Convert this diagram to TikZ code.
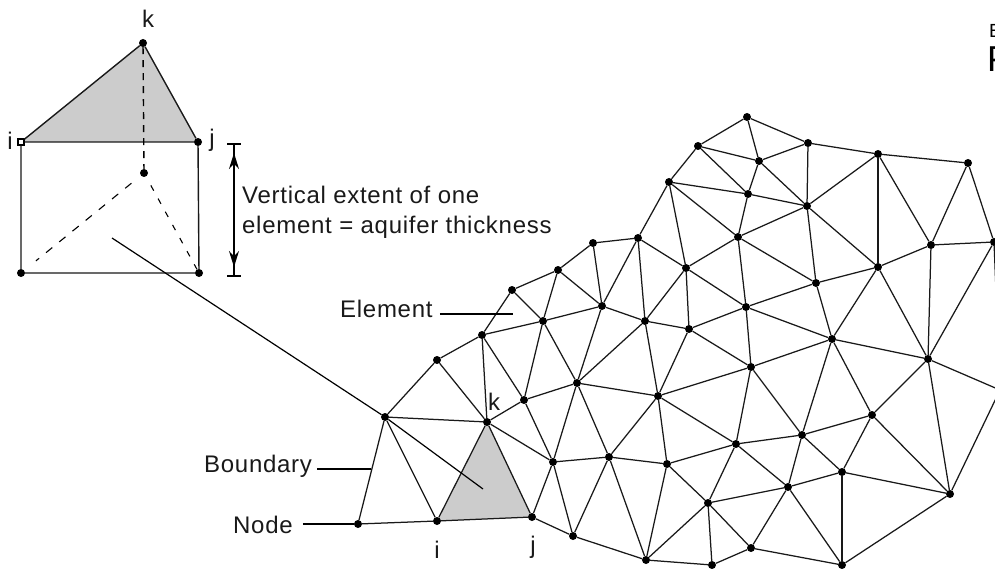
\documentclass[tikz,border=0pt]{standalone}
\usepackage{fontspec}
\newfontfamily\labelfont[LetterSpace=3]{Liberation Sans}
\usetikzlibrary{arrows.meta,backgrounds}
\definecolor{elementgray}{RGB}{204,204,204}
\tikzset{
  meshdot/.style={circle,fill=black,inner sep=0pt,minimum size=8pt},
  opendot/.style={rectangle,draw=black,line width=1.2pt,fill=white,inner sep=0pt,minimum size=6pt},
  meshline/.style={line width=1.25pt,black!90},
  prismline/.style={line width=1.4pt,black!90},
  leader/.style={line width=1.2pt,black},
  lbl/.style={inner sep=0pt,font=\labelfont\fontsize{24}{30}\selectfont,text=black!90},
  tip/.style={{Stealth[length=16pt,width=10pt]}-{Stealth[length=16pt,width=10pt]}}
}
\begin{document}
\begin{tikzpicture}[x=1pt,y=-1pt]
  \useasboundingbox (0,0) rectangle (995,569);
  \clip (0,0) rectangle (995,569);
  % --- Mesh nodes ---
  \foreach \name/\x/\y in {
    t1/747/117,t2/698/146,t3/808/143,t4/759/161,t5/878/154,t6/968/163,t7/669/182,t8/748/194,
    t9/807/206,t10/738/237,t11/686/268,t12/931/245,t13/994/242,t14/878/267,t15/816/283,
    e1/638/238,e2/593/243,e3/558/270,e4/512/290,e5/482/335,e6/437/360,e7/385/417,e8/358/524,
    mi/437/521,mj/532/517,mk/487/422,
    m1/543/321,m2/602/306,m3/645/321,m4/689/329,m5/746/307,m6/832/339,m7/928/359,m8/1000/390,
    m9/524/400,m10/577/383,m11/658/396,m12/751/367,m13/553/462,m14/609/457,m15/667/464,
    m16/736/444,m17/802/435,m18/872/415,m19/842/472,m20/788/487,m21/708/503,m22/950/494,
    b1/573/536,b2/646/560,b3/712/565,b4/751/548,b5/842/565}
    \node[meshdot] (\name) at (\x,\y) {};
  % --- Mesh elements ---
  \begin{scope}[on background layer]
    \fill[elementgray] (mi.center) -- (mj.center) -- (mk.center) -- cycle;
  \end{scope}
  \foreach \a/\b in {
    t1/t2,t1/t3,t1/t4,t2/t4,t2/t8,t3/t4,t4/t8,t4/t9,t3/t5,t3/t9,t5/t6,t5/t9,t5/t14,t5/t12,
    t6/t12,t6/t13,t7/t2,t7/t8,t7/t10,t7/t11,t8/t9,t8/t10,t9/t10,t9/t15,t9/t14,t10/t11,t10/t15,
    t10/m5,t14/t12,t12/t13,t12/m7,t13/m7,t13/m8,t15/t14,t14/m6,t14/m7,t15/m6,t15/m5,m5/m6,
    m6/m7,t11/m5,t11/m4,t11/m3,t7/e1,e1/e2,e2/e3,e3/e4,e4/e5,e1/t11,e1/m3,e1/m2,e2/m2,e3/m2,
    e3/m1,e4/m1,e5/m1,m1/m2,m2/m3,m3/m4,m4/m5,m4/m12,m5/m12,m1/m9,m1/m10,m2/m10,m3/m10,m3/m11,
    m4/m11,e5/e6,e6/e7,e7/e8,e8/mi,mi/mj,mj/b1,b1/b2,e7/mi,e7/mk,e6/mk,e5/mk,e5/m9,mk/m9,
    m9/m10,mk/mi,mk/mj,mk/m13,m9/m13,m10/m13,m10/m11,m10/m14,m11/m14,m13/m14,m14/m15,m13/mj,
    m13/b1,m14/b1,m14/b2,m11/m15,m15/b2,m15/m16,m15/m21,m11/m16,m11/m12,m12/m16,m16/m17,
    m12/m17,m12/m6,m17/m6,m17/m18,m6/m18,m18/m7,m7/m22,m18/m22,m18/m19,m17/m19,m17/m20,
    m16/m20,m16/m21,m21/m20,m20/m19,m19/m22,m19/b5,m22/b5,m20/b5,m20/b4,m21/b4,m21/b3,m21/b2,
    b4/b3,b4/b5,b3/b2,m7/m8,m8/m22}
    \draw[meshline] (\a) -- (\b);
  % --- Prism ---
  \node[opendot] (topi) at (21,142) {};
  \node[meshdot] (topj) at (198,142) {};
  \node[meshdot] (topk) at (143,43) {};
  \node[meshdot] (botk) at (144,173) {};
  \node[meshdot] (boti) at (21,273) {};
  \node[meshdot] (botj) at (199,273) {};
  \begin{scope}[on background layer]
    \fill[elementgray] (topi.center) -- (topj.center) -- (topk.center) -- cycle;
  \end{scope}
  \draw[prismline] (topi) -- (topk) -- (topj) -- (topi);
  \draw[prismline] (topi) -- (boti) -- (botj) -- (topj);
  \draw[line width=1.4pt,dash pattern=on 7pt off 6pt] (topk) -- (botk);
  \draw[line width=1.1pt,dash pattern=on 8pt off 9pt,shorten <=12pt,shorten >=15pt] (botk) -- (boti);
  \draw[line width=1.1pt,dash pattern=on 6pt off 9pt,shorten <=10pt] (botk) -- (botj);
  % --- Vertical extent ---
  \coordinate (dimtop) at (234,144);
  \coordinate (dimbot) at (234,276);
  \coordinate (tiptop) at (234,153);
  \coordinate (tipbot) at (234,267);
  \draw[leader] ([xshift=-7pt]dimtop) -- ([xshift=7pt]dimtop);
  \draw[leader] ([xshift=-7pt]dimbot) -- ([xshift=7pt]dimbot);
  \draw[leader] (dimtop) -- (dimbot);
  \draw[leader,tip] (tiptop) -- (tipbot);
  % --- Callout ---
  \coordinate (calloutstart) at (112,238);
  \coordinate (calloutend) at (483,489);
  \draw[leader] (calloutstart) -- (e7) -- (calloutend);
  % --- Labels ---
  \node[lbl,anchor=base] (lbltopk) at (148,28) {k};
  \node[lbl,anchor=base] (lbltopi) at (10,150) {i};
  \node[lbl,anchor=base] (lbltopj) at (212,147) {j};
  \node[lbl,anchor=north west,align=left] (lblextent) at (242,186) {Vertical extent of one\\element = aquifer thickness};
  \node[lbl,anchor=base west] (lblelement) at (340,317) {Element};
  \node[lbl,anchor=base west] (lblboundary) at (204,472) {Boundary};
  \node[lbl,anchor=base west] (lblnode) at (233,533) {Node};
  \node[lbl,anchor=base] (lblmi) at (437,558) {i};
  \node[lbl,anchor=base] (lblmj) at (533,553) {j};
  \node[lbl,anchor=base] (lblmk) at (494,410) {k};
  \node[inner sep=0pt,anchor=base west,font=\labelfont\fontsize{19}{19}\selectfont] (lblcuta) at (989,38) {E};
  \node[inner sep=0pt,anchor=base west,font=\labelfont\fontsize{36}{36}\selectfont] (lblcutb) at (987,72) {P};
  % --- Leaders ---
  \coordinate (elementend) at (513,314);
  \coordinate (boundaryend) at (371,469);
  \draw[leader,shorten <=7pt] (lblelement.east |- elementend) -- (elementend);
  \draw[leader,shorten <=5pt] (lblboundary.east |- boundaryend) -- (boundaryend);
  \draw[leader,shorten <=10pt] (lblnode.east |- e8) -- (e8);
\end{tikzpicture}
\end{document}
